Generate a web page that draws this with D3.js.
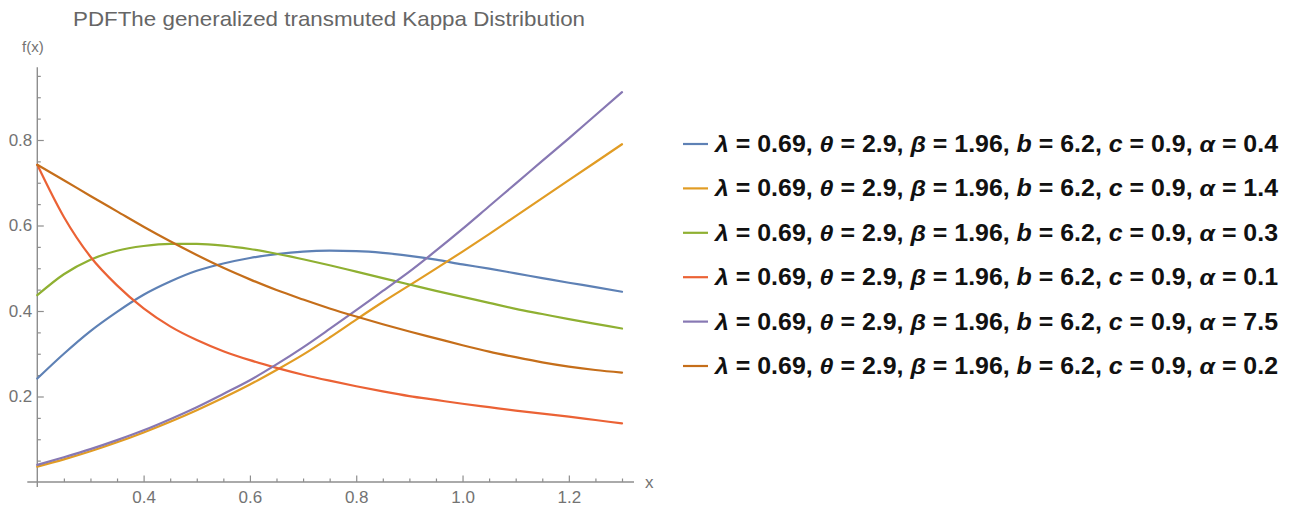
<!DOCTYPE html>
<html>
<head>
<meta charset="utf-8">
<script src="https://cdn.jsdelivr.net/npm/d3@7"></script>
<style>
  body { margin: 0; background: #fff; }
  svg { display: block; }
</style>
</head>
<body>
<div id="chart"></div>
<script>
// 数据
var xs = [0.2, 0.25, 0.3, 0.35, 0.4, 0.45, 0.5, 0.55, 0.6, 0.65, 0.7, 0.75, 0.8, 0.85, 0.9, 0.95, 1.0, 1.05, 1.1, 1.15, 1.2, 1.25, 1.3];
var alpha04 = [0.242, 0.300, 0.353, 0.398, 0.438, 0.469, 0.494, 0.511, 0.524, 0.533, 0.539, 0.541, 0.540, 0.536, 0.529, 0.520, 0.509, 0.499, 0.488, 0.477, 0.466, 0.456, 0.445];
var alpha14 = [0.036, 0.053, 0.072, 0.093, 0.116, 0.141, 0.168, 0.197, 0.228, 0.262, 0.298, 0.338, 0.380, 0.421, 0.460, 0.499, 0.539, 0.580, 0.622, 0.664, 0.706, 0.748, 0.790];
var alpha03 = [0.437, 0.486, 0.520, 0.541, 0.552, 0.557, 0.557, 0.553, 0.545, 0.534, 0.521, 0.507, 0.492, 0.477, 0.462, 0.447, 0.433, 0.419, 0.405, 0.393, 0.381, 0.370, 0.359];
var alpha01 = [0.742, 0.620, 0.527, 0.460, 0.406, 0.364, 0.332, 0.306, 0.285, 0.267, 0.251, 0.237, 0.224, 0.212, 0.201, 0.192, 0.183, 0.175, 0.167, 0.160, 0.153, 0.145, 0.137];
var alpha75 = [0.040, 0.058, 0.077, 0.098, 0.121, 0.147, 0.175, 0.206, 0.238, 0.275, 0.315, 0.358, 0.402, 0.447, 0.492, 0.541, 0.592, 0.645, 0.698, 0.751, 0.804, 0.858, 0.912];
var alpha02 = [0.742, 0.706, 0.669, 0.633, 0.597, 0.563, 0.531, 0.501, 0.474, 0.449, 0.427, 0.406, 0.387, 0.369, 0.352, 0.336, 0.320, 0.305, 0.292, 0.280, 0.270, 0.262, 0.256];
var alphaLabels = ["0.4", "1.4", "0.3", "0.1", "7.5", "0.2"];
var xTicks = [0.4, 0.6, 0.8, 1.0, 1.2];
var yTicks = [0.2, 0.4, 0.6, 0.8];

var series = [alpha04, alpha14, alpha03, alpha01, alpha75, alpha02];
var colors = ["#5E81B5", "#E19C24", "#8FB032", "#EB6235", "#8778B3", "#C56E1A"];

var W = 1293, H = 513;
var axisColor = "#8e8e8e", labelColor = "#737373";

var svg = d3.select("#chart").append("svg")
    .attr("width", W)
    .attr("height", H);

var x = d3.scaleLinear().domain([0.2, 1.3]).range([37.3, 622]);
var y = d3.scaleLinear().domain([0, 0.8]).range([482, 140]);

// title
svg.append("text")
    .attr("x", 73).attr("y", 26)
    .attr("textLength", 512).attr("lengthAdjust", "spacingAndGlyphs")
    .attr("font-family", "Liberation Sans, Arial, sans-serif")
    .attr("font-size", 21)
    .attr("fill", "#666")
    .text("PDFThe generalized transmuted Kappa Distribution");

// 坐标轴
var minorX = d3.range(0.25, 1.3001, 0.05).filter(v => Math.abs(Math.round(v * 5) - v * 5) > 1e-6);
var minorY = d3.range(0.05, 0.9501, 0.05).filter(v => Math.abs(Math.round(v * 5) - v * 5) > 1e-6);

var gx = svg.append("g").attr("transform", `translate(0,${y(0)})`);
gx.call(d3.axisBottom(x).tickValues(minorX).tickSize(-3.5).tickFormat(""));
gx.call(g => g.selectAll(".domain").remove());
var gx2 = svg.append("g").attr("transform", `translate(0,${y(0)})`);
gx2.call(d3.axisBottom(x).tickValues(xTicks).tickSize(-6.5).tickPadding(9).tickFormat(d3.format(".1f")));
gx2.call(g => g.select(".domain").remove());

var gy = svg.append("g").attr("transform", `translate(${x(0.2)},0)`);
gy.call(d3.axisLeft(y).tickValues(minorY).tickSize(-3.5).tickFormat(""));
gy.call(g => g.selectAll(".domain").remove());
var gy2 = svg.append("g").attr("transform", `translate(${x(0.2)},0)`);
gy2.call(d3.axisLeft(y).tickValues(yTicks).tickSize(-6.5).tickPadding(5).tickFormat(d3.format(".1f")));
gy2.call(g => g.select(".domain").remove());

svg.selectAll(".tick line").attr("stroke", axisColor).attr("stroke-width", 1.2);
svg.selectAll(".tick text")
    .attr("fill", labelColor)
    .attr("font-family", "Liberation Sans, Arial, sans-serif")
    .attr("font-size", 17);

svg.append("line")
    .attr("x1", x(0.2) - 10).attr("x2", x(1.3) + 12)
    .attr("y1", y(0)).attr("y2", y(0))
    .attr("stroke", axisColor).attr("stroke-width", 1.4);
svg.append("line")
    .attr("x1", x(0.2)).attr("x2", x(0.2))
    .attr("y1", y(0) + 5).attr("y2", y(0.97))
    .attr("stroke", axisColor).attr("stroke-width", 1.4);

svg.append("text")
    .attr("x", 645).attr("y", 488)
    .attr("font-family", "Liberation Sans, Arial, sans-serif")
    .attr("font-size", 17).attr("fill", labelColor)
    .text("x");
svg.append("text")
    .attr("x", 22).attr("y", 52)
    .attr("font-family", "Liberation Sans, Arial, sans-serif")
    .attr("font-size", 15).attr("fill", labelColor)
    .text("f(x)");

// 曲线
var line = d3.line()
    .x((d, i) => x(xs[i]))
    .y(d => y(d))
    .curve(d3.curveMonotoneX);

svg.append("g")
    .selectAll("path")
    .data(series)
    .join("path")
    .attr("d", line)
    .attr("fill", "none")
    .attr("stroke", (d, i) => colors[i])
    .attr("stroke-width", 2.2)
    .attr("stroke-linecap", "round");

// 图例
var legend = svg.append("g").attr("transform", "translate(683,144)");
var items = legend.selectAll("g")
    .data(alphaLabels)
    .join("g")
    .attr("transform", (d, i) => `translate(0, ${i * 44.4})`);
items.append("line")
    .attr("x1", 0).attr("x2", 25)
    .attr("y1", 0).attr("y2", 0)
    .attr("stroke", (d, i) => colors[i])
    .attr("stroke-width", 2.2);
var txt = items.append("text")
    .attr("x", 32).attr("y", 8)
    .attr("textLength", 563).attr("lengthAdjust", "spacingAndGlyphs")
    .attr("font-family", "Liberation Sans Narrow, Liberation Sans, Arial, sans-serif")
    .attr("font-weight", "bold")
    .attr("font-size", 23)
    .attr("fill", "#111");
var parts = [["λ", " = 0.69, "], ["θ", " = 2.9, "], ["β", " = 1.96, "], ["b", " = 6.2, "], ["c", " = 0.9, "], ["α", " = "]];
txt.each(function(a) {
    var t = d3.select(this);
    parts.forEach(function(p, k) {
        t.append("tspan").attr("font-style", "italic").text(p[0]);
        t.append("tspan").text(k < 5 ? p[1] : p[1] + a);
    });
});
</script>
</body>
</html>
